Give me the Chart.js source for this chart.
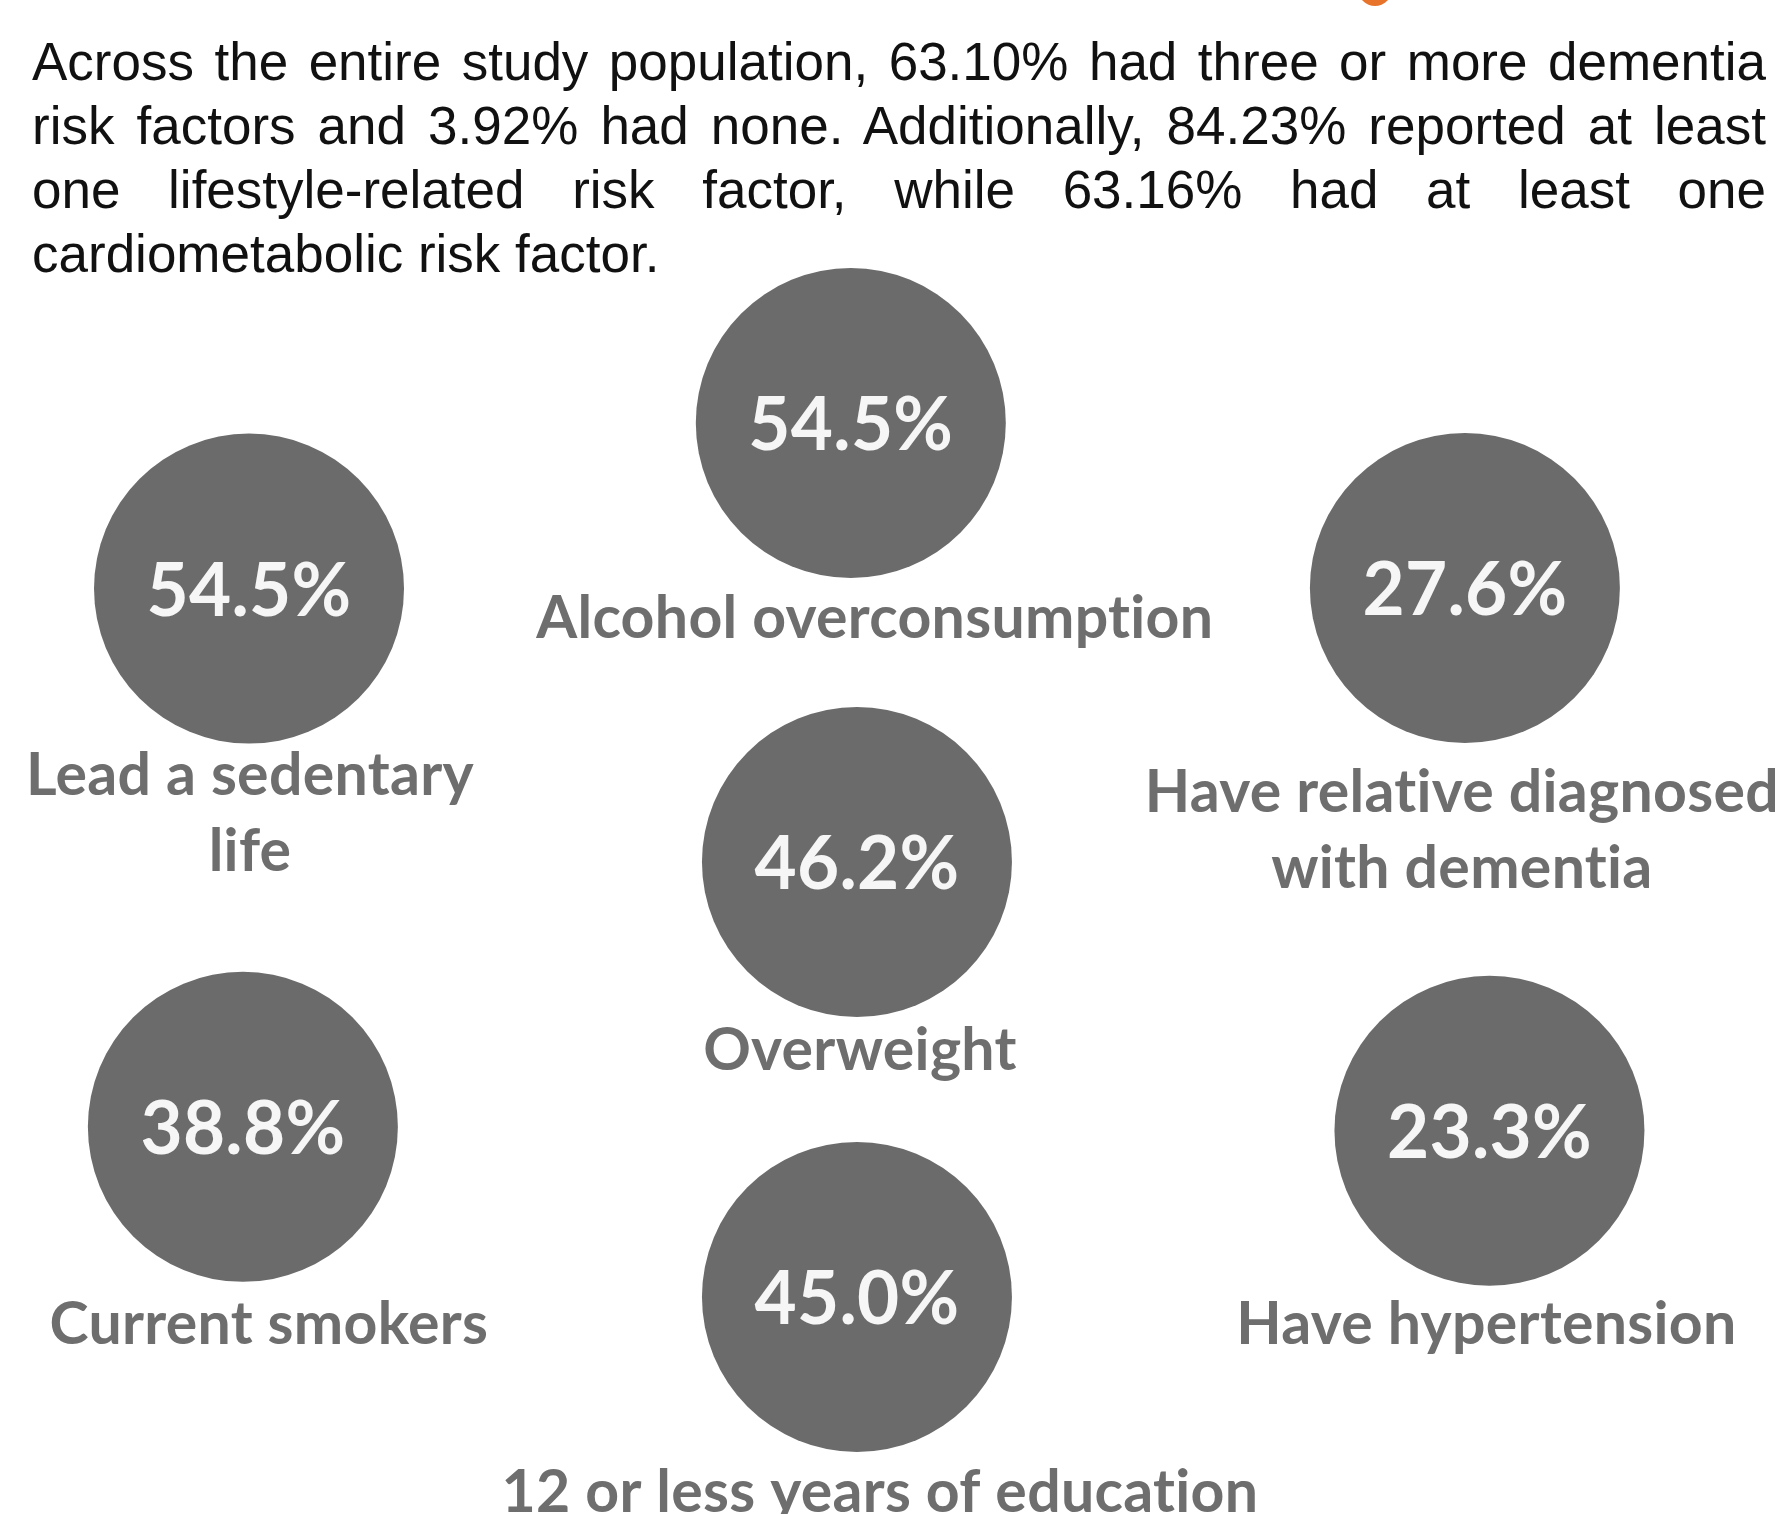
<!DOCTYPE html>
<html>
<head>
	<meta charset="utf-8">
	<title>Dementia risk factors</title>
	<style>
		body { margin: 0; background: #ffffff; }
		#page { position: relative; width: 1775px; height: 1514px; overflow: hidden; background: #ffffff; }
		#chartBox { position: absolute; left: 0; top: 0; width: 1775px; height: 1514px; }
		#intro {
			position: absolute; left: 32px; top: 30px; width: 1734px;
			font-family: "Liberation Sans", Arial, sans-serif; font-size: 53px; line-height: 64px;
			color: #111111; z-index: 2;
		}
		#intro .line { display: block; text-align: justify; text-align-last: justify; }
		#intro .line.last { text-align-last: left; }
		#titleTail {
			position: absolute; left: 1358px; top: -28px; width: 34px; height: 34px;
			border-radius: 50%; background: #e8742c; z-index: 1;
		}
	</style>
</head>
<body>
	<div id="page">
		<div id="titleTail"></div>
		<div id="intro">
			<span class="line">Across the entire study population, 63.10% had three or more dementia</span>
			<span class="line">risk factors and 3.92% had none. Additionally, 84.23% reported at least</span>
			<span class="line">one lifestyle-related risk factor, while 63.16% had at least one</span>
			<span class="line last">cardiometabolic risk factor.</span>
		</div>
		<div id="chartBox">
			<canvas id="riskChart"></canvas>
		</div>
	</div>

	<script src="https://cdn.jsdelivr.net/npm/chart.js@4.4.1/dist/chart.umd.min.js"></script>
	<script type="text/javascript">
		// risk factors and their share of the study population (%)
		const factors = [
			'Alcohol overconsumption',
			'Lead a sedentary\nlife',
			'Have relative diagnosed\nwith dementia',
			'Overweight',
			'Current smokers',
			'Have hypertension',
			'12 or less years of education'
		];
		const shares = [54.5, 54.5, 27.6, 46.2, 38.8, 23.3, 45.0];

		// where each bubble sits, in grid units (column, row)
		const gridCol = [0.98, 0.0, 1.98, 0.99, -0.01, 2.02, 0.99];
		const gridRow = [1.495, 2.08, 2.078, 3.046, 3.982, 3.996, 4.583];

		// caption offset from bubble centre: [dx, dy of first baseline]
		const captionShift = [[24, 215], [1, 206], [-3, 224], [3, 208], [26, 217], [-3, 213], [23, 215]];

		const circleGrey = '#6b6b6b';
		const captionGrey = '#6e6e6e';

		const circleLabels = {
			id: 'circleLabels',
			afterDatasetsDraw(chart) {
				const ctx = chart.ctx;
				const meta = chart.getDatasetMeta(0);
				meta.data.forEach((pt, i) => {
					const x = pt.x, y = pt.y;
					ctx.save();
					ctx.textAlign = 'center';
					ctx.textBaseline = 'alphabetic';
					// a tiny spacing stops Lato from joining "ti" into a ligature
					ctx.letterSpacing = '0.3px';

					// value inside the circle
					ctx.fillStyle = '#f6f6f6';
					ctx.font = '700 75px Lato, "Open Sans", sans-serif';
					const pct = shares[i].toFixed(1) + '%';
					const pw = ctx.measureText(pct).width;
					ctx.fillText(pct, x, y + 27, pw * 0.97);

					// caption under the circle
					ctx.fillStyle = captionGrey;
					ctx.font = '700 59px Lato, "Open Sans", sans-serif';
					const lines = factors[i].split('\n');
					lines.forEach((ln, k) => {
						ctx.fillText(ln, x + captionShift[i][0], y + captionShift[i][1] + k * 76);
					});
					ctx.restore();
				});
			}
		};

		const ctx = document.getElementById('riskChart').getContext('2d');
		const chart = new Chart(ctx, {
			type: 'scatter',
			data: {
				labels: factors,
				datasets: [{
					data: shares.map((v, i) => ({ x: gridCol[i], y: gridRow[i] })),
					pointRadius: 155,
					pointHoverRadius: 155,
					pointBackgroundColor: circleGrey,
					pointBorderWidth: 0,
					borderWidth: 0,
					clip: false
				}]
			},
			options: {
				responsive: true,
				maintainAspectRatio: false,
				animation: false,
				events: [],
				layout: { padding: 0, autoPadding: false },
				scales: {
					x: { display: false, min: -0.4055, max: 2.485 },
					y: { display: false, reverse: true, min: 0, max: 5.35 }
				},
				plugins: {
					legend: { display: false },
					tooltip: { enabled: false }
				}
			},
			plugins: [circleLabels]
		});
	</script>
</body>
</html>
